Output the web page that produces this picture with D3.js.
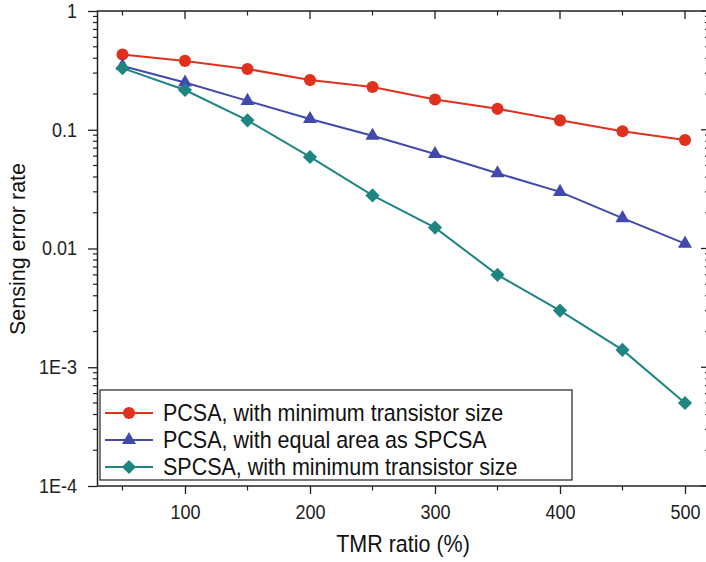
<!DOCTYPE html>
<html>
<head>
<meta charset="utf-8">
<script src="https://cdn.jsdelivr.net/npm/d3@7"></script>
<style>
  body { margin: 0; background: #fff; }
  svg { display: block; font-family: "Liberation Sans", Arial, sans-serif; }
</style>
</head>
<body>
<svg id="chart" width="706" height="562"></svg>
<script>
// TMR ratio (%)
const tmr = [50, 100, 150, 200, 250, 300, 350, 400, 450, 500];
// sensing error rate per series
const pcsaMin = [0.43, 0.38, 0.325, 0.262, 0.229, 0.18, 0.15, 0.12, 0.097, 0.082];
const pcsaEq = [0.344, 0.25, 0.175, 0.123, 0.089, 0.0625, 0.043, 0.03, 0.018, 0.011];
const spcsaMin = [0.33, 0.216, 0.12, 0.059, 0.028, 0.015, 0.006, 0.003, 0.0014, 0.0005];
const seriesNames = ["PCSA, with minimum transistor size", "PCSA, with equal area as SPCSA", "SPCSA, with minimum transistor size"];
const xTicks = [100, 200, 300, 400, 500];
const yTicks = [1, 0.1, 0.01, 0.001, 0.0001];
const yTickLabels = ["1", "0.1", "0.01", "1E-3", "1E-4"];

const svg = d3.select("#chart");
const pLeft = 97.5, pRight = 710, pTop = 11, pBottom = 486;
const fontFam = "'Liberation Sans', Arial, sans-serif";
const stretch = 1.09; // glyphs in the original look a bit tall

let x = d3.scaleLinear().domain([30, 520]).range([pLeft, pRight]);
let y = d3.scaleLog().domain([1e-4, 1]).range([pBottom, pTop]);

// minor log ticks
let minorY = [];
for (let e = -4; e < 0; e++) {
    for (let m = 2; m <= 9; m++) minorY.push(m * Math.pow(10, e));
}
let minorX = [50, 150, 250, 350, 450];

const ink = "#222";

// bottom axis (outward)
let gB = svg.append("g").attr("transform", `translate(0,${pBottom})`);
gB.call(d3.axisBottom(x).tickValues(xTicks).tickSize(8))
    .call(g => g.select(".domain").remove());
gB.selectAll(".tick line").attr("stroke", ink).attr("stroke-width", 1.3);
gB.selectAll("text")
    .attr("y", 33 / stretch).attr("dy", 0)
    .attr("transform", `scale(1,${stretch})`)
    .attr("font-size", "18px").attr("fill", ink).style("font-family", fontFam);
gB.selectAll(".minor").data(minorX).enter().append("line")
    .attr("x1", d => x(d)).attr("x2", d => x(d)).attr("y1", 0).attr("y2", 4.5)
    .attr("stroke", ink).attr("stroke-width", 1.2);

// top axis (inward)
let gT = svg.append("g").attr("transform", `translate(0,${pTop})`);
gT.selectAll(".maj").data(xTicks).enter().append("line")
    .attr("x1", d => x(d)).attr("x2", d => x(d)).attr("y1", 0).attr("y2", 8)
    .attr("stroke", ink).attr("stroke-width", 1.3);
gT.selectAll(".min").data(minorX).enter().append("line")
    .attr("x1", d => x(d)).attr("x2", d => x(d)).attr("y1", 0).attr("y2", 4.5)
    .attr("stroke", ink).attr("stroke-width", 1.2);

// left axis (outward)
let gL = svg.append("g").attr("transform", `translate(${pLeft},0)`);
gL.call(d3.axisLeft(y).tickValues(yTicks).tickFormat((d, i) => yTickLabels[i]).tickSize(9.5).tickPadding(11))
    .call(g => g.select(".domain").remove());
gL.selectAll(".tick line").attr("stroke", ink).attr("stroke-width", 1.3);
gL.selectAll("text")
    .attr("transform", `scale(1,${stretch})`)
    .attr("font-size", "18px").attr("fill", ink).style("font-family", fontFam);
gL.selectAll(".minor").data(minorY).enter().append("line")
    .attr("x1", -4.5).attr("x2", 0).attr("y1", d => y(d)).attr("y2", d => y(d))
    .attr("stroke", ink).attr("stroke-width", 1.2);

// right axis (inward)
let gR = svg.append("g").attr("transform", `translate(${pRight},0)`);
gR.selectAll(".maj").data(yTicks).enter().append("line")
    .attr("x1", -9).attr("x2", 0).attr("y1", d => y(d)).attr("y2", d => y(d))
    .attr("stroke", ink).attr("stroke-width", 1.3);
gR.selectAll(".min").data(minorY).enter().append("line")
    .attr("x1", -5).attr("x2", 0).attr("y1", d => y(d)).attr("y2", d => y(d))
    .attr("stroke", ink).attr("stroke-width", 1.2);

// frame
svg.append("rect")
    .attr("x", pLeft).attr("y", pTop)
    .attr("width", pRight - pLeft).attr("height", pBottom - pTop)
    .attr("fill", "none").attr("stroke", ink).attr("stroke-width", 1.5);

// axis titles
svg.append("text")
    .attr("transform", `translate(403,552) scale(1,${stretch})`)
    .attr("text-anchor", "middle").attr("font-size", "21.5px").attr("fill", "#111")
    .style("font-family", fontFam)
    .text("TMR ratio (%)");
svg.append("text")
    .attr("transform", "translate(25,249) rotate(-90)")
    .attr("text-anchor", "middle").attr("font-size", "21.5px").attr("fill", "#111")
    .style("font-family", fontFam)
    .text("Sensing error rate");

// series
const series = [
    { name: seriesNames[0], values: pcsaMin, color: "#e0301e", shape: d3.symbolCircle, size: 115, rot: 0 },
    { name: seriesNames[1], values: pcsaEq, color: "#4149ad", shape: d3.symbolTriangle, size: 85, rot: 0 },
    { name: seriesNames[2], values: spcsaMin, color: "#1f8582", shape: d3.symbolSquare, size: 100, rot: 45 }
];

let lineFun = d3.line().x(d => x(d[0])).y(d => y(d[1]));

series.forEach(s => {
    let pts = tmr.map((t, i) => [t, s.values[i]]);
    svg.append("path")
        .attr("d", lineFun(pts))
        .attr("fill", "none").attr("stroke", s.color).attr("stroke-width", 2);
    svg.selectAll(null).data(pts).enter().append("path")
        .attr("transform", d => `translate(${x(d[0])},${y(d[1])}) rotate(${s.rot})`)
        .attr("d", d3.symbol().type(s.shape).size(s.size))
        .attr("fill", s.color);
});

// legend
let lg = svg.append("g");
lg.append("rect")
    .attr("x", 100).attr("y", 390).attr("width", 472).attr("height", 90)
    .attr("fill", "#fff").attr("stroke", ink).attr("stroke-width", 1.2);
series.forEach((s, i) => {
    let yy = 413 + i * 27;
    lg.append("line")
        .attr("x1", 105).attr("x2", 153).attr("y1", yy).attr("y2", yy)
        .attr("stroke", s.color).attr("stroke-width", 2);
    lg.append("path")
        .attr("transform", `translate(129,${yy}) rotate(${s.rot})`)
        .attr("d", d3.symbol().type(s.shape).size(s.size))
        .attr("fill", s.color);
    lg.append("text")
        .attr("transform", `translate(163,${yy}) scale(1,${stretch})`)
        .attr("dy", "0.36em")
        .attr("font-size", "21.5px").attr("fill", "#111")
        .style("font-family", fontFam)
        .text(s.name);
});
</script>
</body>
</html>
